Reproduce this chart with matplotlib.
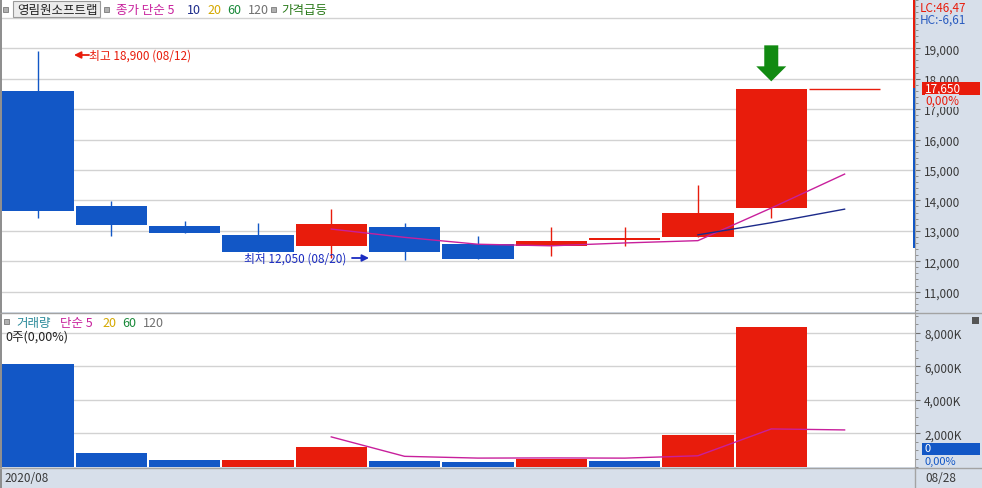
import matplotlib
matplotlib.use('Agg')
import matplotlib.pyplot as plt
import matplotlib.transforms as mtrans
from matplotlib.patches import Polygon, Rectangle
from matplotlib.ticker import FuncFormatter, MultipleLocator
import numpy as np
import pandas as pd

plt.rcParams['font.family'] = ['Noto Sans CJK KR', 'DejaVu Sans']

# ---------------- data ----------------
dates = ['08/12', '08/13', '08/14', '08/18', '08/19', '08/20',
         '08/21', '08/24', '08/25', '08/26', '08/27', '08/28']
opens = [17600, 13800, 13170, 12870, 12510, 13120, 12550, 12510, 12695, 12800, 13760, 17650]
highs = [18900, 13970, 13320, 13250, 13710, 13250, 12840, 13120, 13120, 14500, 17650, 17650]
lows = [13420, 12830, 12920, 12290, 12100, 12050, 12070, 12160, 12510, 12800, 13430, 17650]
closes = [13650, 13200, 12920, 12290, 13220, 12290, 12070, 12660, 12760, 13600, 17650, 17650]
volumes = [6140, 824, 400, 410, 1200, 346, 300, 450, 350, 1900, 8350, 0]  # thousand shares

stock_name = '영림원소프트랩'
price_ticks = [11000, 12000, 13000, 14000, 15000, 16000, 17000, 18000, 19000]
price_grid = price_ticks + [20000]
vol_ticks = [2000, 4000, 6000, 8000]
surge_index = 10          # '가격급등' signal candle
high_idx, low_idx = 0, 5

# ---------------- style ----------------
RED = '#e81c0c'
BLUE = '#1257c6'
MAG = '#c8209c'
NAVY = '#1c2a8a'
BG = '#d7dfea'
GRID = '#d2d2d2'
BORDER = '#a3a3a3'
TXT = '#3a3a3a'
FS = 9

W, H = 982, 489
fig = plt.figure(figsize=(W / 100, H / 100), dpi=100, facecolor=BG)
# pixel transform, origin top-left
T = mtrans.Affine2D().scale(1 / W, -1 / H).translate(0, 1) + fig.transFigure

ax1 = fig.add_axes([2 / W, 1 - 313 / H, 913 / W, 313 / H])
ax2 = fig.add_axes([2 / W, 1 - 468 / H, 913 / W, 154 / H])

x = np.arange(len(dates))
bw = 0.97
s_close = pd.Series(closes, dtype=float)
ma5 = s_close.rolling(5).mean()
ma10 = s_close.rolling(10).mean()
vma5 = pd.Series(volumes, dtype=float).rolling(5).mean()

for ax in (ax1, ax2):
    ax.set_facecolor('white')
    ax.set_xlim(-0.49, 11.96)
    for s in ('top', 'left', 'bottom'):
        ax.spines[s].set_visible(False)
    ax.spines['right'].set_color(BORDER)
    ax.tick_params(axis='x', which='both', bottom=False, labelbottom=False)
    ax.yaxis.tick_right()
    ax.tick_params(axis='y', which='major', length=3.5, width=0.8, color='#707070',
                   labelsize=8.5, labelcolor=TXT, pad=3)
    ax.tick_params(axis='y', which='minor', length=1.8, width=0.6, color='#808080')

# ---------------- price panel ----------------
ax1.set_ylim(10330, 20620)
for g in price_grid:
    ax1.axhline(g, color=GRID, lw=1, zorder=0)
ax1.set_yticks(price_ticks)
ax1.yaxis.set_major_formatter(FuncFormatter(lambda v, p: f'{int(v):,}'))
ax1.yaxis.set_minor_locator(MultipleLocator(200))

for i in range(len(dates)):
    o, h, l, c = opens[i], highs[i], lows[i], closes[i]
    col = RED if c >= o else BLUE
    ax1.vlines(x[i], l, h, color=col, lw=1, zorder=2)
    bot, top = min(o, c), max(o, c)
    if top - bot < 1:
        ax1.hlines(c, x[i] - bw / 2, x[i] + bw / 2, color=col, lw=1, zorder=3)
    else:
        ax1.bar(x[i], top - bot, bottom=bot, width=bw, color=col, zorder=3, linewidth=0)

ax1.plot(x, ma5, color=MAG, lw=1, zorder=4)
ax1.plot(x, ma10, color=NAVY, lw=1, zorder=4)

# surge arrow above the signal candle
atr = fig.dpi_scale_trans + mtrans.ScaledTranslation(x[surge_index], highs[surge_index], ax1.transData)
pts = np.array([(-15, 23), (0, 8), (15, 23), (7, 23), (7, 44), (-7, 44), (-7, 23)]) / 100.0
ax1.add_patch(Polygon(pts, closed=True, transform=atr, facecolor='#118a11', edgecolor='none', zorder=5))

# high / low annotations
ax1.annotate('', xy=(74, 56), xytext=(89, 56), xycoords=T, textcoords=T,
             arrowprops=dict(arrowstyle='-|>', color=RED, lw=1.3, mutation_scale=10,
                             shrinkA=0, shrinkB=0))
fig.text(89, 56, f'최고 {highs[high_idx]:,} ({dates[high_idx]})', transform=T, color=RED,
         fontsize=8.5, va='center', ha='left')
fig.text(244, 259, f'최저 {lows[low_idx]:,} ({dates[low_idx]})', transform=T, color='#1a2bc0',
         fontsize=8.5, va='center', ha='left')
ax1.annotate('', xy=(369, 259), xytext=(352, 259), xycoords=T, textcoords=T,
             arrowprops=dict(arrowstyle='-|>', color='#1a2bc0', lw=1.3, mutation_scale=10,
                             shrinkA=0, shrinkB=0))

# ---------------- volume panel ----------------
ax2.set_ylim(0, 9180)
for g in vol_ticks:
    ax2.axhline(g, color=GRID, lw=1, zorder=0)
ax2.set_yticks(vol_ticks)
ax2.yaxis.set_major_formatter(FuncFormatter(lambda v, p: f'{int(v):,}K'))
ax2.yaxis.set_minor_locator(MultipleLocator(500))
vcols = []
for i, v in enumerate(volumes):
    vcols.append(RED if i > 0 and v > volumes[i - 1] else BLUE)
ax2.bar(x, volumes, width=bw, color=vcols, linewidth=0, zorder=3)
ax2.plot(x, vma5, color=MAG, lw=1, zorder=4)

# ---------------- frame decorations ----------------
fig.add_artist(Rectangle((0, 0), 2, 489, transform=T, facecolor='#8f8f8f', edgecolor='none'))
fig.add_artist(plt.Line2D([0, 982], [313.5, 313.5], transform=T, color=BORDER, lw=1))
fig.add_artist(plt.Line2D([0, 982], [468.5, 468.5], transform=T, color=BORDER, lw=1))
fig.add_artist(plt.Line2D([915.5, 915.5], [468, 489], transform=T, color=BORDER, lw=1))

# right vertical range bar
fig.add_artist(Rectangle((913, 0), 2.5, 89, transform=T, facecolor=RED, edgecolor='none'))
fig.add_artist(Rectangle((913, 89), 2.5, 160, transform=T, facecolor=BLUE, edgecolor='none'))

# legend (top)
def icon(px, py):
    fig.add_artist(Rectangle((px, py), 5, 5, transform=T, facecolor='#b0b0b0', edgecolor='#7a7a7a', lw=0.6))

icon(3, 8)
fig.add_artist(Rectangle((13, 2), 87, 16, transform=T, facecolor='#ececec', edgecolor='#9a9a9a', lw=0.8))
fig.text(17, 10.5, stock_name, transform=T, fontsize=FS, color='#222222', va='center')
icon(104, 8)
fig.text(116, 10.5, '종가 단순 5', transform=T, fontsize=FS, color=MAG, va='center')
fig.text(187, 10.5, '10', transform=T, fontsize=FS, color=NAVY, va='center')
fig.text(207, 10.5, '20', transform=T, fontsize=FS, color='#d4a800', va='center')
fig.text(227, 10.5, '60', transform=T, fontsize=FS, color='#1a8a3a', va='center')
fig.text(248, 10.5, '120', transform=T, fontsize=FS, color='#707070', va='center')
icon(271, 8)
fig.text(281, 10.5, '가격급등', transform=T, fontsize=FS, color='#2a7a1a', va='center')

# legend (volume)
icon(4, 320)
fig.text(16, 323.5, '거래량', transform=T, fontsize=FS, color='#2a8a9a', va='center')
fig.text(60, 323.5, '단순 5', transform=T, fontsize=FS, color=MAG, va='center')
fig.text(102, 323.5, '20', transform=T, fontsize=FS, color='#d4a800', va='center')
fig.text(122, 323.5, '60', transform=T, fontsize=FS, color='#1a8a3a', va='center')
fig.text(143, 323.5, '120', transform=T, fontsize=FS, color='#707070', va='center')
fig.text(5, 337, f'{volumes[-1]}주(0,00%)', transform=T, fontsize=FS, color='#222222', va='center')

# right axis badges
fig.text(920, 8, 'LC:46,47', transform=T, fontsize=8.5, color=RED, va='center')
fig.text(920, 20, 'HC:-6,61', transform=T, fontsize=8.5, color='#2a5cc0', va='center')
fig.add_artist(Rectangle((922, 83), 58, 13, transform=T, facecolor=RED, edgecolor='none'))
fig.text(925, 89.5, f'{closes[-1]:,}', transform=T, fontsize=8.5, color='white', va='center')
fig.text(925, 101.5, '0,00%', transform=T, fontsize=8.5, color=RED, va='center',
         bbox=dict(facecolor=BG, edgecolor='none', pad=0.3))
fig.add_artist(Rectangle((922, 444), 58, 12, transform=T, facecolor=BLUE, edgecolor='none'))
fig.text(925, 449.5, f'{volumes[-1]}', transform=T, fontsize=8, color='white', va='center')
fig.text(925, 462, '0,00%', transform=T, fontsize=8, color=BLUE, va='center')
fig.add_artist(Rectangle((972, 318), 7, 7, transform=T, facecolor='#555555', edgecolor='none'))

# date strip
fig.text(4, 479, '2020/08', transform=T, fontsize=8.5, color=TXT, va='center')
fig.text(925, 479, dates[-1], transform=T, fontsize=8.5, color=TXT, va='center')

fig.savefig('out.png', dpi=100, facecolor=BG)
